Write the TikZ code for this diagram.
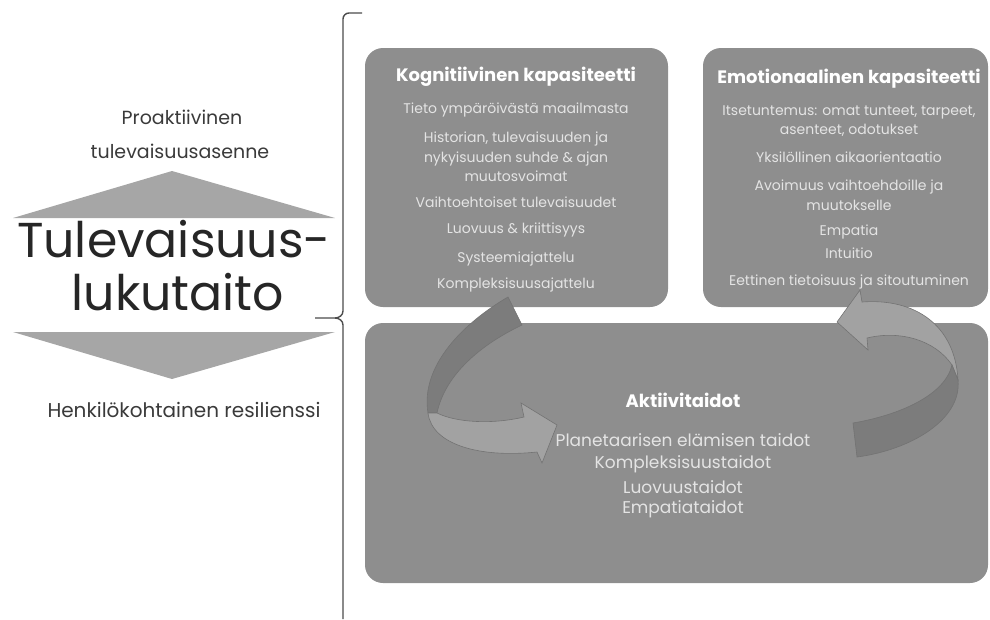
\documentclass[tikz,border=0pt]{standalone}
\usepackage{fontspec}
\setmainfont{Poppins}
\usepackage{tikz}
\usepackage{xcolor}
\usetikzlibrary{positioning, calc}
\definecolor{boxgray}{HTML}{8E8E8E}
\definecolor{boxtext}{HTML}{E4E4E4}
\definecolor{triangray}{HTML}{A6A6A6}
\definecolor{darkband}{HTML}{7C7C7C}
\definecolor{lightband}{HTML}{A2A2A2}
\definecolor{bandline}{HTML}{737373}
\definecolor{leftink}{HTML}{3A3A3A}
\tikzstyle{panel} = [draw=none, fill=boxgray, rounded corners=18pt, inner sep=0pt]
\tikzstyle{paneltitle} = [text=white, anchor=base, font=\bfseries\fontsize{18}{20}\selectfont, inner sep=0pt]
\tikzstyle{paneltext} = [text=boxtext, anchor=base, font=\fontsize{14}{17}\selectfont, inner sep=0pt]
\tikzstyle{acttext} = [paneltext, font=\fontsize{17}{19}\selectfont]
\tikzstyle{sidetext} = [text=leftink, anchor=base, inner sep=0pt]

\begin{document}
\begin{tikzpicture}[x=1pt, y=-1pt]
    \useasboundingbox (0,0) rectangle (990,619);

    % Left side: triangles and the main term
    \fill[triangray] (13,218) -- (172,171) -- (335,218) -- cycle;
    \fill[triangray] (13,332) -- (335,332) -- (172,379) -- cycle;
    \node (attitude1) [sidetext, font=\fontsize{19}{21}\selectfont] at (182,124) {Proaktiivinen};
    \node (attitude2) [sidetext, font=\fontsize{19}{21}\selectfont] at (180,158) {tulevaisuusasenne};
    \node (literacy1) [sidetext, text=black!85, font=\fontsize{49}{52}\selectfont] at (174,257) {Tulevaisuus-};
    \node (literacy2) [sidetext, text=black!85, font=\fontsize{49}{52}\selectfont] at (178,310) {lukutaito};
    \node (resilience) [sidetext, font=\fontsize{20}{22}\selectfont] at (184,417) {Henkil\"okohtainen resilienssi};

    % Brace
    \draw[line width=1.4pt, draw=black!70] (362,13) -- (349,13) to[out=180, in=90] (343,19) -- (343,311)
        to[out=-90, in=0] (335,318) -- (315,318);
    \draw[line width=1.4pt, draw=black!70] (335,318) to[out=0, in=90] (343,325) -- (343,619);

    % Panels
    \node (cogbox) [panel, minimum width=303pt, minimum height=259pt] at (516.5,177.5) {};
    \node (emobox) [panel, minimum width=285pt, minimum height=259pt] at (845.5,177.5) {};
    \node (actbox) [panel, minimum width=623pt, minimum height=260pt] at (676.5,453) {};

    % Left curved arrow
    \filldraw[fill=darkband, draw=bandline, line width=0.6pt] (508,297) .. controls (465,322) and (420,365) .. (428,413)
        -- (437,413) .. controls (445,375) and (480,345) .. (522,325) -- cycle;
    \filldraw[fill=lightband, draw=bandline, line width=0.6pt] (428,413) .. controls (432,445) and (480,458) .. (537,452)
        -- (542,463) -- (557,425) -- (521,403) -- (524,417) .. controls (490,425) and (455,422) .. (437,413) -- cycle;

    % Right curved arrow
    \filldraw[fill=lightband, draw=bandline, line width=0.6pt] (862,302) .. controls (915,298) and (955,325) .. (958,380)
        -- (952,365) .. controls (935,340) and (900,330) .. (867,338) -- (868,350) -- (837,322) -- (860,290) -- cycle;
    \filldraw[fill=darkband, draw=bandline, line width=0.6pt] (952,365) .. controls (945,395) and (900,415) .. (853,423)
        -- (857,457) .. controls (910,450) and (962,420) .. (958,380) -- cycle;

    % Cognitive capacity
    \node (cogT) [paneltitle] at (516,81) {Kognitiivinen kapasiteetti};
    \node (cog1) [paneltext] at (516,113) {Tieto ymp\"ar\"oiv\"ast\"a maailmasta};
    \node (cog2a) [paneltext] at (516,142) {Historian, tulevaisuuden ja};
    \node (cog2b) [paneltext] at (516,162) {nykyisuuden suhde \& ajan};
    \node (cog2c) [paneltext] at (516,181) {muutosvoimat};
    \node (cog3) [paneltext] at (516,207) {Vaihtoehtoiset tulevaisuudet};
    \node (cog4) [paneltext] at (516,233) {Luovuus \& kriittisyys};
    \node (cog5) [paneltext] at (516,262) {Systeemiajattelu};
    \node (cog6) [paneltext] at (516,288) {Kompleksisuusajattelu};

    % Emotional capacity
    \node (emoT) [paneltitle] at (849,83) {Emotionaalinen kapasiteetti};
    \node (emo1a) [paneltext] at (849,115) {Itsetuntemus: omat tunteet, tarpeet,};
    \node (emo1b) [paneltext] at (849,134) {asenteet, odotukset};
    \node (emo2) [paneltext] at (849,162) {Yksil\"ollinen aikaorientaatio};
    \node (emo3a) [paneltext] at (849,190) {Avoimuus vaihtoehdoille ja};
    \node (emo3b) [paneltext] at (849,210) {muutokselle};
    \node (emo4) [paneltext] at (849,235) {Empatia};
    \node (emo5) [paneltext] at (849,258) {Intuitio};
    \node (emo6) [paneltext] at (849,285) {Eettinen tietoisuus ja sitoutuminen};

    % Activity skills
    \node (actT) [paneltitle] at (683,407) {Aktiivitaidot};
    \node (act1) [acttext] at (683,446) {Planetaarisen el\"amisen taidot};
    \node (act2) [acttext] at (683,468) {Kompleksisuustaidot};
    \node (act3) [acttext] at (683,493) {Luovuustaidot};
    \node (act4) [acttext] at (683,513) {Empatiataidot};
\end{tikzpicture}
\end{document}
